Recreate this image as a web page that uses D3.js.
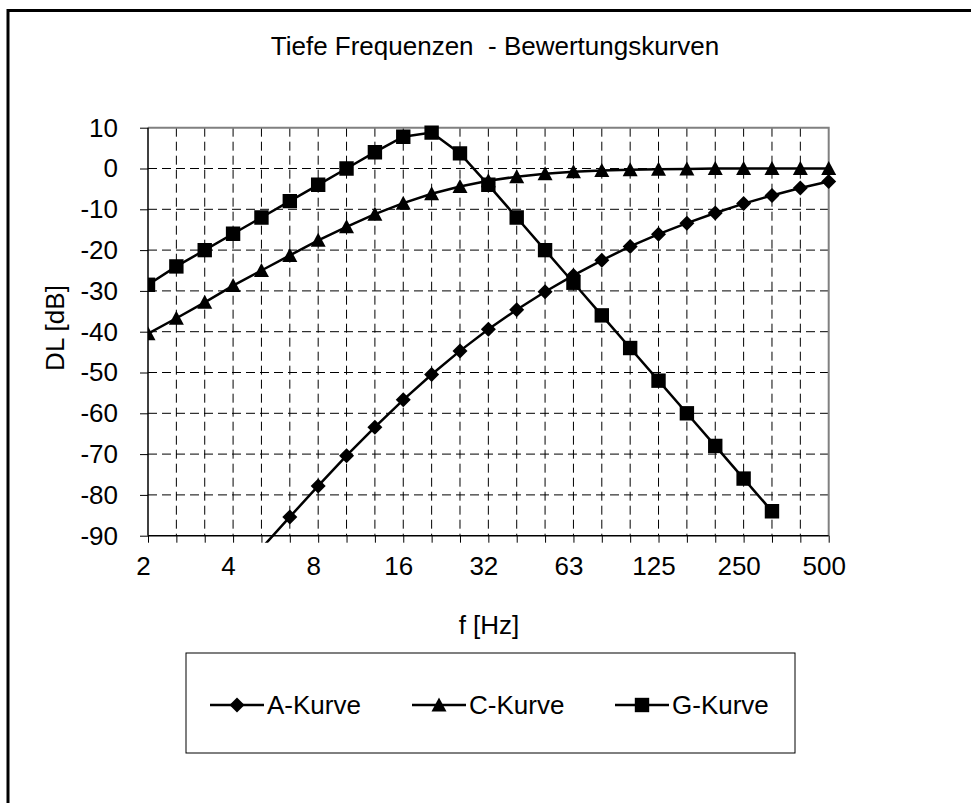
<!DOCTYPE html>
<html>
<head>
<meta charset="utf-8">
<script src="https://cdn.jsdelivr.net/npm/d3@7"></script>
<style>
  body { margin: 0; background: #fff; }
  text { font-family: "Liberation Sans", Arial, sans-serif; fill: #000; }
</style>
</head>
<body>
<div id="chart"></div>
<script>
var width  = 971;
var height = 803;

// third-octave bands 2 Hz .. 500 Hz
var freqs = ["2", "2.5", "3.15", "4", "5", "6.3", "8", "10", "12.5", "16", "20", "25", "31.5",
             "40", "50", "63", "80", "100", "125", "160", "200", "250", "315", "400", "500"];
// only every third band gets a label
var tickLabels = {"2": "2", "4": "4", "8": "8", "16": "16", "31.5": "32", "63": "63",
                  "125": "125", "250": "250", "500": "500"};
var yTicks = [10, 0, -10, -20, -30, -40, -50, -60, -70, -80, -90];

// weighting values in dB, null = no value
var aKurve = [null, null, null, null, -93.1, -85.4, -77.8, -70.4, -63.4, -56.7, -50.5, -44.7, -39.4,
              -34.6, -30.2, -26.2, -22.5, -19.1, -16.1, -13.4, -10.9, -8.6, -6.6, -4.8, -3.2];
var cKurve = [-40.5, -36.7, -32.8, -28.7, -25.0, -21.3, -17.6, -14.3, -11.2, -8.5, -6.2, -4.4, -3.0,
              -2.0, -1.3, -0.8, -0.5, -0.3, -0.2, -0.1, 0, 0, 0, 0, 0];
var gKurve = [-28.5, -24, -20, -16, -12, -8, -4, 0, 4, 7.8, 8.8, 3.7, -4,
              -12, -20, -28, -36, -44, -52, -60, -68, -76, -84, null, null];

var seriesNames = ["A-Kurve", "C-Kurve", "G-Kurve"];
var seriesData  = [aKurve, cKurve, gKurve];

// marker shapes like the excel ones: diamond, triangle, square
var markers = [
  "M0,-7.5L7.5,0L0,7.5L-7.5,0Z",
  "M0,-7.5L7.5,6.5H-7.5Z",
  "M-7.2,-7.2H7.2V7.2H-7.2Z"
];

var plot = {left: 148, right: 828.7, top: 127.7, bottom: 535.7};
var fontSize = "26px";

var x = d3.scalePoint().domain(freqs).range([plot.left, plot.right]);
var y = d3.scaleLinear().domain([-90, 10]).range([plot.bottom, plot.top]);

var svg = d3.select("#chart").append("svg")
    .attr("width", width)
    .attr("height", height);

// outer frame (only left and top visible)
svg.append("path")
    .attr("d", "M8,803V10.5H971")
    .attr("fill", "none")
    .attr("stroke", "#000")
    .attr("stroke-width", 3);

svg.append("text")
    .attr("x", 495)
    .attr("y", 55)
    .attr("text-anchor", "middle")
    .style("font-size", fontSize)
    .style("white-space", "pre")
    .attr("xml:space", "preserve")
    .text("Tiefe Frequenzen  - Bewertungskurven");

// grid
var grid = svg.append("g")
    .attr("stroke", "#000")
    .attr("stroke-width", 1)
    .attr("stroke-dasharray", "9,5");

grid.selectAll("line.h").data(yTicks.filter(function(d) { return d > -90 && d < 10; }))
  .enter().append("line")
    .attr("x1", plot.left).attr("x2", plot.right)
    .attr("y1", function(d) { return y(d); })
    .attr("y2", function(d) { return y(d); });

grid.selectAll("line.v").data(freqs.slice(1, -1))
  .enter().append("line")
    .attr("y1", plot.top).attr("y2", plot.bottom)
    .attr("x1", function(d) { return x(d); })
    .attr("x2", function(d) { return x(d); });

// top and right border, grey
svg.append("path")
    .attr("d", "M" + plot.left + "," + plot.top + "H" + plot.right + "V" + plot.bottom)
    .attr("fill", "none")
    .attr("stroke", "#808080")
    .attr("stroke-width", 2);

// axes
var xAxis = d3.axisBottom(x).tickSize(7).tickFormat(function(d) { return tickLabels[d] || ""; });
var gx = svg.append("g")
    .attr("transform", "translate(0," + plot.bottom + ")")
    .call(xAxis);
gx.select(".domain").attr("d", "M" + plot.left + ",0H" + plot.right).attr("stroke-width", 1.5);
gx.selectAll(".tick text")
    .attr("dx", -5)
    .attr("y", 31)
    .attr("dy", "0.32em")
    .style("font-size", fontSize)
    .style("font-family", "'Liberation Sans', Arial, sans-serif");

var yAxis = d3.axisLeft(y).tickValues(yTicks).tickSize(8).tickPadding(22)
    .tickFormat(function(d) { return String(d); });
var gy = svg.append("g")
    .attr("transform", "translate(" + plot.left + ",0)")
    .call(yAxis);
gy.select(".domain").attr("d", "M0," + plot.top + "V" + plot.bottom).attr("stroke-width", 1.5);
gy.selectAll(".tick text")
    .style("font-size", fontSize)
    .style("font-family", "'Liberation Sans', Arial, sans-serif");

svg.append("text")
    .attr("transform", "translate(55,328) rotate(-90)")
    .attr("text-anchor", "middle")
    .attr("dy", "0.35em")
    .style("font-size", fontSize)
    .text("DL [dB]");

svg.append("text")
    .attr("x", 489)
    .attr("y", 625)
    .attr("text-anchor", "middle")
    .attr("dy", "0.35em")
    .style("font-size", fontSize)
    .text("f [Hz]");

// series
svg.append("clipPath").attr("id", "clip")
  .append("rect")
    .attr("x", plot.left).attr("y", plot.top - 10)
    .attr("width", plot.right - plot.left + 10)
    .attr("height", plot.bottom - plot.top + 17);

var line = d3.line()
    .defined(function(d) { return d != null; })
    .x(function(d, i) { return x(freqs[i]); })
    .y(function(d) { return y(d); });

var series = svg.append("g").attr("clip-path", "url(#clip)");

seriesData.forEach(function(vals, k) {
  series.append("path")
      .datum(vals)
      .attr("fill", "none")
      .attr("stroke", "#000")
      .attr("stroke-width", 2.5)
      .attr("d", line);
});

seriesData.forEach(function(vals, k) {
  var pts = vals.map(function(v, i) { return {f: freqs[i], v: v}; })
      .filter(function(d) { return d.v != null && d.v >= -90; });
  series.selectAll("path.m" + k).data(pts)
    .enter().append("path")
      .attr("class", "m" + k)
      .attr("transform", function(d) { return "translate(" + x(d.f) + "," + y(d.v) + ")"; })
      .attr("d", markers[k])
      .attr("fill", "#000");
});

// legend
var legend = svg.append("g");
legend.append("rect")
    .attr("x", 186).attr("y", 653)
    .attr("width", 609).attr("height", 100)
    .attr("fill", "#fff")
    .attr("stroke", "#000")
    .attr("stroke-width", 1);

var legX = [210, 412, 615];
seriesNames.forEach(function(name, k) {
  var gl = legend.append("g").attr("transform", "translate(" + legX[k] + ",705)");
  gl.append("line").attr("x1", 0).attr("x2", 54).attr("stroke", "#000").attr("stroke-width", 2.5);
  gl.append("path")
      .attr("transform", "translate(27,0)")
      .attr("d", markers[k])
      .attr("fill", "#000");
  gl.append("text")
      .attr("x", 57)
      .attr("dy", "0.35em")
      .style("font-size", fontSize)
      .text(name);
});
</script>
</body>
</html>
